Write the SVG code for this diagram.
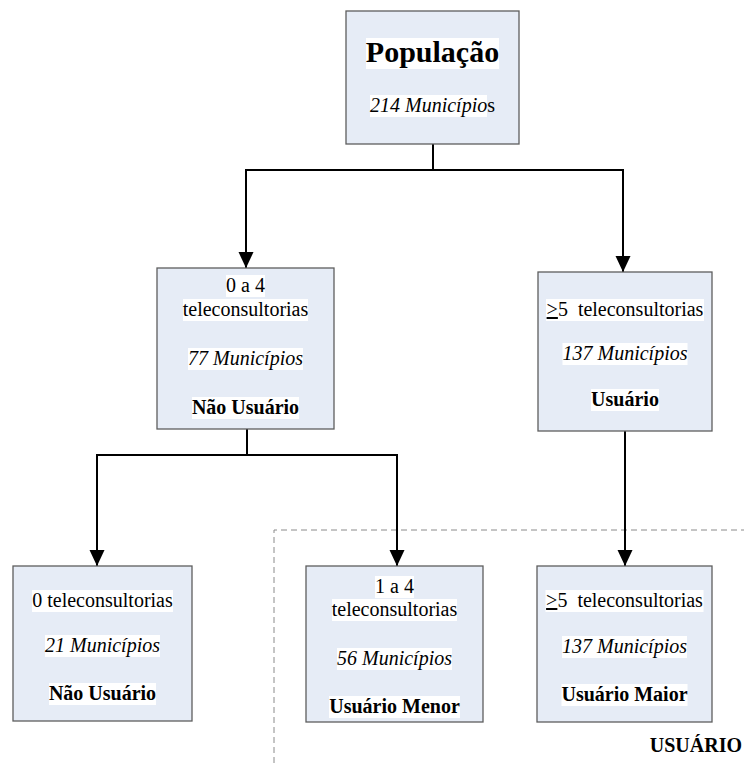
<svg xmlns="http://www.w3.org/2000/svg" width="744" height="763" viewBox="0 0 744 763">
  <style>
    .box { fill: #E6ECF6; stroke: #5E5E5E; stroke-width: 1.3; }
    .hl { fill: #FFFFFF; }
    text { font-family: 'Liberation Serif', 'DejaVu Serif', serif; font-size: 20px; fill: #000; text-anchor: middle; }
    .it { font-style: italic; }
    .b { font-weight: bold; }
    .title { font-size: 30px; font-weight: bold; }
    .wire { fill: none; stroke: #000; stroke-width: 2; }
    .group { fill: none; stroke: #8A8A8A; stroke-width: 1; stroke-dasharray: 6 4; }
  </style>
  <defs>
    <marker id="arrow" markerUnits="userSpaceOnUse" markerWidth="18" markerHeight="18" refX="16" refY="8" orient="auto">
      <path d="M0,0.5 L16,8 L0,15.5 Z" fill="#000"/>
    </marker>
  </defs>

  <!-- dashed boundary of the user group -->
  <path class="group" d="M274,763 V530 H744"/>

  <!-- connectors -->
  <g id="connectors">
    <path class="wire" d="M433,144 V170 H246 V268" marker-end="url(#arrow)"/>
    <path class="wire" d="M433,170 H623 V272" marker-end="url(#arrow)"/>
    <path class="wire" d="M247,429 V455 H97 V566" marker-end="url(#arrow)"/>
    <path class="wire" d="M247,455 H397 V566" marker-end="url(#arrow)"/>
    <path class="wire" d="M625,431 V566" marker-end="url(#arrow)"/>
  </g>

  <!-- root -->
  <g id="populacao">
    <rect class="box" x="346" y="11" width="173" height="133"/>
    <rect class="hl" x="366" y="38" width="133" height="31"/>
    <text class="title" x="432.5" y="62">População</text>
    <rect class="hl" x="370" y="95" width="117" height="22"/>
    <text x="432.5" y="112"><tspan class="it">214 Município</tspan>s</text>
  </g>

  <!-- 0 to 4 -->
  <g id="nao-usuario">
    <rect class="box" x="157" y="268" width="177" height="161"/>
    <rect class="hl" x="226" y="275" width="39" height="22"/>
    <text x="245.5" y="292">0 a 4</text>
    <rect class="hl" x="183" y="299" width="125" height="22"/>
    <text x="245.5" y="316">teleconsultorias</text>
    <rect class="hl" x="188" y="348" width="115" height="22"/>
    <text class="it" x="245.5" y="365">77 Municípios</text>
    <rect class="hl" x="192" y="397" width="107" height="22"/>
    <text class="b" x="245.5" y="414">Não Usuário</text>
  </g>

  <!-- 5 or more -->
  <g id="usuario">
    <rect class="box" x="538" y="272" width="174" height="159"/>
    <rect class="hl" x="546" y="299" width="158" height="22"/>
    <text x="625" y="316" xml:space="preserve"><tspan text-decoration="underline">&gt;</tspan>5  teleconsultorias</text>
    <rect class="hl" x="562.5" y="343" width="125" height="22"/>
    <text class="it" x="625" y="360">137 Municípios</text>
    <rect class="hl" x="591" y="389" width="68" height="22"/>
    <text class="b" x="625" y="406">Usuário</text>
  </g>

  <!-- zero -->
  <g id="nao-usuario-zero">
    <rect class="box" x="13" y="566" width="179" height="155"/>
    <rect class="hl" x="32" y="590" width="141" height="22"/>
    <text x="102.5" y="607">0 teleconsultorias</text>
    <rect class="hl" x="45" y="635" width="115" height="22"/>
    <text class="it" x="102.5" y="652">21 Municípios</text>
    <rect class="hl" x="49" y="683" width="107" height="22"/>
    <text class="b" x="102.5" y="700">Não Usuário</text>
  </g>

  <!-- 1 to 4 -->
  <g id="usuario-menor">
    <rect class="box" x="306" y="566" width="177" height="156"/>
    <rect class="hl" x="375" y="576" width="39" height="22"/>
    <text x="394.5" y="593">1 a 4</text>
    <rect class="hl" x="332" y="599" width="125" height="22"/>
    <text x="394.5" y="616">teleconsultorias</text>
    <rect class="hl" x="337" y="648" width="115" height="22"/>
    <text class="it" x="394.5" y="665">56 Municípios</text>
    <rect class="hl" x="329" y="696" width="131" height="22"/>
    <text class="b" x="394.5" y="713">Usuário Menor</text>
  </g>

  <!-- 5 or more, user group -->
  <g id="usuario-maior">
    <rect class="box" x="537" y="566" width="175" height="156"/>
    <rect class="hl" x="545.5" y="590" width="158" height="22"/>
    <text x="624.5" y="607" xml:space="preserve"><tspan text-decoration="underline">&gt;</tspan>5  teleconsultorias</text>
    <rect class="hl" x="562" y="636" width="125" height="22"/>
    <text class="it" x="624.5" y="653">137 Municípios</text>
    <rect class="hl" x="561.5" y="684" width="126" height="22"/>
    <text class="b" x="624.5" y="701">Usuário Maior</text>
  </g>

  <text class="b" x="742" y="752" style="text-anchor:end;font-size:20px">USUÁRIO</text>
</svg>
